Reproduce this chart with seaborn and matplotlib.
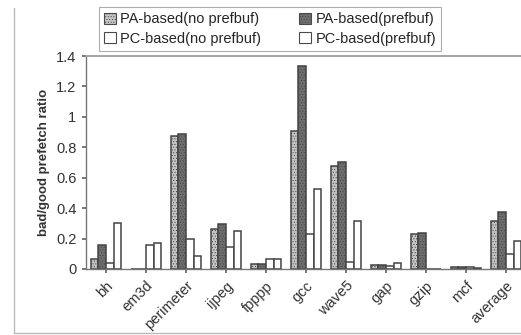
import matplotlib
matplotlib.use("Agg")
import matplotlib.pyplot as plt
import seaborn as sns
import pandas as pd
from matplotlib.patches import Rectangle
from matplotlib.lines import Line2D

categories = ["bh", "em3d", "perimeter", "ijpeg", "fpppp", "gcc", "wave5", "gap", "gzip", "mcf", "average"]
series_names = ["PA-based(no prefbuf)", "PA-based(prefbuf)", "PC-based(no prefbuf)", "PC-based(prefbuf)"]
pa_noprefbuf = [0.068, 0.002, 0.874, 0.266, 0.031, 0.907, 0.674, 0.026, 0.233, 0.010, 0.317]
pa_prefbuf   = [0.156, 0.002, 0.889, 0.295, 0.031, 1.334, 0.705, 0.028, 0.235, 0.015, 0.376]
pc_noprefbuf = [0.037, 0.156, 0.196, 0.147, 0.066, 0.231, 0.044, 0.022, 0.003, 0.010, 0.097]
pc_prefbuf   = [0.300, 0.171, 0.088, 0.249, 0.066, 0.524, 0.313, 0.042, 0.003, 0.005, 0.183]
yticks = [0, 0.2, 0.4, 0.6, 0.8, 1, 1.2, 1.4]
ytick_labels = ["0", "0.2", "0.4", "0.6", "0.8", "1", "1.2", "1.4"]

rows = []
for name, vals in zip(series_names, [pa_noprefbuf, pa_prefbuf, pc_noprefbuf, pc_prefbuf]):
    for c, v in zip(categories, vals):
        rows.append({"benchmark": c, "series": name, "ratio": v})
df = pd.DataFrame(rows)

sns.set_theme(style="white")
plt.rcParams['font.family'] = ['Liberation Sans', 'DejaVu Sans']
plt.rcParams['hatch.color'] = "#8a8a8a"
plt.rcParams['hatch.linewidth'] = 0.4

fig = plt.figure(figsize=(5.21, 3.35), dpi=100)
ax = fig.add_axes([86 / 521, 66 / 335, 440 / 521, 213 / 335])

fills = ["#c4c4c4", "#6e6e6e", "#ffffff", "#ffffff"]
palette = dict(zip(series_names, fills))
sns.barplot(data=df, x="benchmark", y="ratio", hue="series", order=categories,
            hue_order=series_names, palette=palette, width=0.76, ax=ax,
            edgecolor="#444444", linewidth=1.1, saturation=1, legend=False, errorbar=None)

hatches = ["......", "......", "", ""]
for container, h in zip(ax.containers, hatches):
    for bar in container:
        bar.set_hatch(h)

ax.set_xlim(-0.5, len(categories) - 0.5)
ax.set_ylim(0, 1.4)
ax.set_yticks(yticks)
ax.set_yticklabels(ytick_labels, fontsize=10.5, color="#333333")
ax.set_xticks(range(len(categories)))
ax.set_xticklabels(categories, rotation=45, ha="right", rotation_mode="anchor", fontsize=10.5, color="#333333")
ax.set_xlabel("")
ax.set_ylabel("bad/good prefetch ratio", fontsize=9.5, fontweight="bold", color="#333333", labelpad=4)
ax.tick_params(axis="both", which="both", length=3, color="#666666", direction="out", pad=4)
ax.tick_params(axis="y", left=True)
ax.tick_params(axis="x", bottom=True)
for s in ["left", "bottom"]:
    ax.spines[s].set_color("#777777")
    ax.spines[s].set_linewidth(1.0)
ax.spines["top"].set_color("#9a9a9a")
ax.spines["top"].set_linestyle((0, (1, 1)))
ax.spines["right"].set_visible(False)

handles = [Rectangle((0, 0), 1, 1, facecolor=f, edgecolor="#4a4a4a", hatch=h, linewidth=0.8)
           for f, h in zip(fills, hatches)]
order = [0, 2, 1, 3]
leg = fig.legend([handles[i] for i in order], [series_names[i] for i in order],
                 loc="upper left", bbox_to_anchor=(92 / 521, 1 - 0 / 335),
                 ncol=2, fontsize=10.5, frameon=True, fancybox=False, handlelength=0.8,
                 handleheight=0.8, handletextpad=0.3, columnspacing=2.6, borderpad=0.35,
                 labelspacing=0.35)
leg.get_frame().set_edgecolor("#999999")
leg.get_frame().set_linewidth(0.8)

# chart-area frame lines (left and bottom)
fig.add_artist(Line2D([14 / 521, 14 / 521], [2 / 335, 1 - 8 / 335], color="#bbbbbb", lw=1))
fig.add_artist(Line2D([14 / 521, 1], [2 / 335, 2 / 335], color="#bbbbbb", lw=1))

fig.savefig("out.png", dpi=100)
